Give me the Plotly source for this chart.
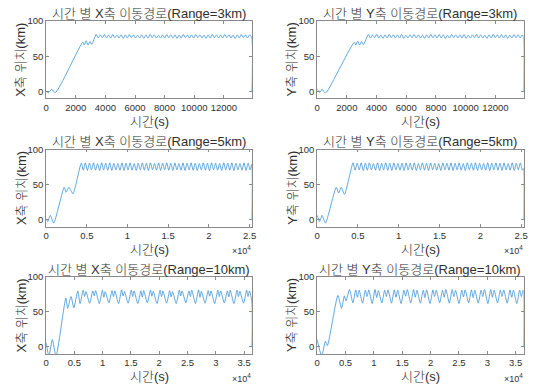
import plotly.graph_objects as go

# ---------------- data ----------------
t_x3 = [0, 150, 380, 620, 2480, 2570, 2700, 2830, 2960, 3080,
        3380, 3520, 3660, 3800, 3940, 4080, 4220, 4360, 4500, 4640,
        4780, 4920, 5060, 5200, 5340, 5480, 5620, 5760, 5900, 6040,
        6180, 6320, 6460, 6600, 6740, 6880, 7020, 7160, 7300, 7440,
        7580, 7720, 7860, 8000, 8140, 8280, 8420, 8560, 8700, 8840,
        8980, 9120, 9260, 9400, 9540, 9680, 9820, 9960, 10100, 10240,
        10380, 10520, 10660, 10800, 10940, 11080, 11220, 11360, 11500, 11640,
        11780, 11920, 12060, 12200, 12340, 12480, 12620, 12760, 12900, 13040,
        13180, 13320, 13460, 13600, 13740, 13880,
        13900]
v_x3 = [0, -2, 3, -2, 70, 66, 72, 66, 71, 67,
        81, 76, 80.5, 76.5, 81, 76, 80.5, 76, 81, 76.5,
        80, 76, 80.5, 75.5, 80.5, 76, 81, 76.5, 80.5, 76,
        80, 76, 80.5, 75.5, 80.5, 76, 81, 76.5, 80.5, 76,
        80, 76, 80.5, 76, 81, 76.5, 80.5, 76, 80.5, 75.5,
        80, 76, 81, 76.5, 80.5, 76, 80.5, 76, 81, 76.5,
        80.5, 76, 80, 75.5, 80.5, 76, 81, 76.5, 80.5, 76,
        80.5, 76, 81, 76.5, 80.5, 76, 80, 75.5, 80.5, 76,
        81, 76.5, 80.5, 76, 80.5, 77,
        0]

t_y3 = [0, 170, 330, 520, 640, 2510, 2600, 2730, 2860, 2990, 3110,
        3450, 3590, 3730, 3870, 4010, 4150, 4290, 4430, 4570, 4710,
        4850, 4990, 5130, 5270, 5410, 5550, 5690, 5830, 5970, 6110,
        6250, 6390, 6530, 6670, 6810, 6950, 7090, 7230, 7370, 7510,
        7650, 7790, 7930, 8070, 8210, 8350, 8490, 8630, 8770, 8910,
        9050, 9190, 9330, 9470, 9610, 9750, 9890, 10030, 10170, 10310,
        10450, 10590, 10730, 10870, 11010, 11150, 11290, 11430, 11570, 11710,
        11850, 11990, 12130, 12270, 12410, 12550, 12690, 12830, 12970, 13110,
        13250, 13390, 13530, 13670, 13810,
        13890, 13900]
v_y3 = [3, -1.5, 3, -2, -1, 70, 66, 71.5, 66, 71, 66.5,
        81, 76, 80.5, 76.5, 81, 76, 80, 75.5, 80.5, 76,
        81, 76.5, 80.5, 76, 80.5, 76, 81, 75.5, 80, 76,
        80.5, 76.5, 81, 76, 80.5, 76, 80, 75.5, 80.5, 76,
        81, 76.5, 80.5, 76, 81, 76, 80.5, 75.5, 80, 76,
        81, 76.5, 80.5, 76, 80.5, 76, 81, 75.5, 80, 76,
        80.5, 76.5, 81, 76, 80.5, 76, 80, 75.5, 80.5, 76,
        81, 76.5, 80.5, 76, 81, 76, 80.5, 75.5, 80, 76,
        81, 76.5, 80.5, 76, 80.5,
        77, 0]

t_x5 = [0, 200, 520, 930, 2220, 2450, 2800, 3300,
        4320, 4570, 4820, 5070, 5320, 5570, 5820, 6070, 6320, 6570,
        6820, 7070, 7320, 7570, 7820, 8070, 8320, 8570, 8820, 9070,
        9320, 9570, 9820, 10070, 10320, 10570, 10820, 11070, 11320, 11570,
        11820, 12070, 12320, 12570, 12820, 13070, 13320, 13570, 13820, 14070,
        14320, 14570, 14820, 15070, 15320, 15570, 15820, 16070, 16320, 16570,
        16820, 17070, 17320, 17570, 17820, 18070, 18320, 18570, 18820, 19070,
        19320, 19570, 19820, 20070, 20320, 20570, 20820, 21070, 21320, 21570,
        21820, 22070, 22320, 22570, 22820, 23070, 23320, 23570, 23820, 24070,
        24320, 24570, 24820, 25070,
        25280, 25300]
v_x5 = [1, -3, 6, -5, 46, 39, 46, 37,
        80.5, 70.5, 81, 70, 80.5, 71, 81, 70.5, 80, 70,
        81, 71, 80.5, 70.5, 81, 70, 80.5, 71, 80, 70.5,
        81, 70, 80.5, 71, 81, 70.5, 80, 70, 80.5, 71,
        81, 70.5, 80.5, 70, 81, 71, 80, 70.5, 81, 70,
        80.5, 71, 81, 70.5, 80.5, 70, 81, 71, 80, 70.5,
        81, 70, 80.5, 71, 81, 70.5, 80.5, 70, 80, 71,
        81, 70.5, 80.5, 70, 81, 71, 80.5, 70.5, 80, 70,
        81, 71, 80.5, 70.5, 81, 70, 80.5, 71, 80, 70.5,
        81, 70, 80.5, 71,
        79, 0]

t_y5 = [0, 300, 600, 1010, 2340, 2630, 2950, 3350,
        4400, 4650, 4900, 5150, 5400, 5650, 5900, 6150, 6400, 6650,
        6900, 7150, 7400, 7650, 7900, 8150, 8400, 8650, 8900, 9150,
        9400, 9650, 9900, 10150, 10400, 10650, 10900, 11150, 11400, 11650,
        11900, 12150, 12400, 12650, 12900, 13150, 13400, 13650, 13900, 14150,
        14400, 14650, 14900, 15150, 15400, 15650, 15900, 16150, 16400, 16650,
        16900, 17150, 17400, 17650, 17900, 18150, 18400, 18650, 18900, 19150,
        19400, 19650, 19900, 20150, 20400, 20650, 20900, 21150, 21400, 21650,
        21900, 22150, 22400, 22650, 22900, 23150, 23400, 23650, 23900, 24150,
        24400, 24650, 24900, 25150,
        25280, 25300]
v_y5 = [6, -3, 6, -5, 46, 38, 46, 36,
        81, 70.5, 80.5, 71, 81, 70, 80.5, 70.5, 81, 71,
        80, 70.5, 81, 70, 80.5, 71, 81, 70.5, 80.5, 70,
        81, 71, 80, 70.5, 80.5, 70, 81, 71, 80.5, 70.5,
        81, 70, 80, 71, 81, 70.5, 80.5, 70, 81, 71,
        80.5, 70.5, 80, 70, 81, 71, 80.5, 70.5, 81, 70,
        80.5, 71, 81, 70.5, 80, 70, 81, 71, 80.5, 70.5,
        81, 70, 80.5, 71, 80, 70.5, 81, 70, 80.5, 71,
        81, 70.5, 80.5, 70, 81, 71, 80, 70.5, 81, 70,
        80.5, 71, 81, 70.5,
        73, 0]

t_x10 = [0, 500, 1100, 1750, 3490, 3800, 4400, 4900, 5600,
         6000, 6550, 6800, 7050, 7700, 8250, 8500, 8750,
         9400, 9950, 10200, 10450, 11100, 11650, 11900, 12150,
         12800, 13350, 13600, 13850, 14500, 15050, 15300, 15550,
         16200, 16750, 17000, 17250, 17900, 18450, 18700, 18950,
         19600, 20150, 20400, 20650, 21300, 21850, 22100, 22350,
         23000, 23550, 23800, 24050, 24700, 25250, 25500, 25750,
         26400, 26950, 27200, 27450, 28100, 28650, 28900, 29150,
         29800, 30350, 30600, 30850, 31500, 32050, 32300, 32550,
         33200, 33750, 34000, 34250, 34900, 35450, 35700, 35950,
         36380, 36400]
v_x10 = [6, -13, 10.5, -13, 70, 55, 72, 56, 80,
         62, 81, 72, 79, 62.5, 80, 73, 80.5,
         62, 81, 71, 79, 63, 80.5, 72, 80,
         62, 81.5, 73, 79, 62.5, 81, 72, 80,
         62, 80, 71, 80.5, 63, 81, 72.5, 79.5,
         62, 81, 72, 80, 62.5, 80.5, 71.5, 79,
         62, 81, 73, 80, 63, 80, 72, 81,
         62, 81.5, 71, 79.5, 62.5, 80.5, 72.5, 80,
         62, 81, 72, 80, 63, 80, 71.5, 81,
         62, 81, 72, 79.5, 62.5, 81, 72, 80,
         64, 0]

t_y10 = [0, 800, 1450, 1800, 3660, 4300, 4800, 5100, 5700,
         6300, 6800, 7100, 7400, 8000, 8500, 8800, 9100,
         9700, 10200, 10500, 10800, 11400, 11900, 12200, 12500,
         13100, 13600, 13900, 14200, 14800, 15300, 15600, 15900,
         16500, 17000, 17300, 17600, 18200, 18700, 19000, 19300,
         19900, 20400, 20700, 21000, 21600, 22100, 22400, 22700,
         23300, 23800, 24100, 24400, 25000, 25500, 25800, 26100,
         26700, 27200, 27500, 27800, 28400, 28900, 29200, 29500,
         30100, 30600, 30900, 31200, 31800, 32300, 32600, 32900,
         33500, 34000, 34300, 34600, 35200, 35700, 36000, 36300,
         36380, 36400]
v_y10 = [10.5, -13, 8, 2, 73.5, 55, 73, 66, 82,
         63, 81.5, 71, 81, 62.5, 81, 72, 81.5,
         62, 82, 70.5, 80.5, 63, 81, 72, 81.5,
         62.5, 81.5, 71, 81, 62, 81, 72.5, 82,
         63, 82, 71, 81, 62.5, 81, 70.5, 81.5,
         62, 81.5, 72, 81, 63, 81, 71, 82,
         62.5, 82, 72, 81, 62, 81, 71.5, 81.5,
         63, 81.5, 70.5, 81, 62.5, 81, 72, 82,
         62, 82, 71, 81, 63, 81, 72, 81.5,
         62.5, 81.5, 71, 81, 62, 81, 72, 81,
         80, 0]

xmax_3, xmax_5, xmax_10 = 13900, 25300, 36400
xtick_vals_3 = [0, 2000, 4000, 6000, 8000, 10000, 12000]
xtick_text_3 = ["0", "2000", "4000", "6000", "8000", "10000", "12000"]
xtick_vals_5 = [0, 5000, 10000, 15000, 20000, 25000]
xtick_text_5 = ["0", "0.5", "1", "1.5", "2", "2.5"]
xtick_vals_10 = [0, 5000, 10000, 15000, 20000, 25000, 30000, 35000]
xtick_text_10 = ["0", "0.5", "1", "1.5", "2", "2.5", "3", "3.5"]
ytick_vals = [0, 50, 100]
ytick_text = ["0", "50", "100"]
y_range = [-10, 100]

titles = [["시간 별 X축 이동경로(Range=3km)", "시간 별 Y축 이동경로(Range=3km)"],
          ["시간 별 X축 이동경로(Range=5km)", "시간 별 Y축 이동경로(Range=5km)"],
          ["시간 별 X축 이동경로(Range=10km)", "시간 별 Y축 이동경로(Range=10km)"]]
ylabels = ["X축 위치(km)", "Y축 위치(km)"]
xlabel = "시간(s)"
exponent_label = "×10<sup>4</sup>"

for a, b in [(t_x3, v_x3), (t_y3, v_y3), (t_x5, v_x5), (t_y5, v_y5), (t_x10, v_x10), (t_y10, v_y10)]:
    assert len(a) == len(b), (len(a), len(b))

series = [[(t_x3, v_x3), (t_y3, v_y3)],
          [(t_x5, v_x5), (t_y5, v_y5)],
          [(t_x10, v_x10), (t_y10, v_y10)]]
xinfo = [(xmax_3, xtick_vals_3, xtick_text_3),
         (xmax_5, xtick_vals_5, xtick_text_5),
         (xmax_10, xtick_vals_10, xtick_text_10)]

# ---------------- layout (pixel geometry) ----------------
W, H = 537, 387
FONT = "Liberation Sans, Noto Sans CJK KR, Arial, sans-serif"
TXT = "#303030"
AXL = "#8a8a8a"
LINE = "#3a92d6"
col_px = [(43.7, 252.3), (318.3, 527.5)]
row_px = [(15.4, 93.8), (145.8, 224.0), (275.2, 353.4)]
title_y = [7.5, 138.0, 267.5]
xlabel_y = [117.0, 247.5, 376.7]
ylabel_x = [18.3, 292.5]
exp_y = [None, 248.0, 378.0]

fig = go.Figure()
layout = dict(width=W, height=H, autosize=False,
              margin=dict(l=0, r=0, t=0, b=0),
              paper_bgcolor="white", plot_bgcolor="white",
              showlegend=False, font=dict(family=FONT, color=TXT))
annotations = []

def px2x(p):
    return p / W

def px2y(p):
    return 1 - p / H

for r in range(3):
    for c in range(2):
        n = r * 2 + c + 1
        xa = "x" if n == 1 else f"x{n}"
        ya = "y" if n == 1 else f"y{n}"
        t, v = series[r][c]
        fig.add_trace(go.Scatter(x=t, y=v, mode="lines", xaxis=xa, yaxis=ya,
                                 line=dict(color=LINE, width=0.8, shape="spline", smoothing=0.6),
                                 hoverinfo="skip"))
        xmax, tv, tt = xinfo[r]
        common = dict(showline=True, mirror="ticks", linecolor=AXL, linewidth=0.8,
                      ticks="inside", ticklen=3, tickwidth=0.8, tickcolor=AXL,
                      showgrid=False, zeroline=False,
                      tickfont=dict(family=FONT, size=9.5, color=TXT))
        layout["xaxis" if n == 1 else f"xaxis{n}"] = dict(
            domain=[px2x(col_px[c][0]), px2x(col_px[c][1])],
            anchor=ya, range=[0, xmax], tickvals=tv, ticktext=tt, **common)
        layout["yaxis" if n == 1 else f"yaxis{n}"] = dict(
            domain=[px2y(row_px[r][1]), px2y(row_px[r][0])],
            anchor=xa, range=y_range, tickvals=ytick_vals, ticktext=ytick_text, **common)
        cx = (col_px[c][0] + col_px[c][1]) / 2
        annotations.append(dict(text=titles[r][c], x=px2x(cx), y=px2y(title_y[r]),
                                xref="paper", yref="paper", showarrow=False,
                                xanchor="center", yanchor="middle",
                                font=dict(family=FONT, size=13, color=TXT, weight=300)))
        annotations.append(dict(text=xlabel, x=px2x(cx), y=px2y(xlabel_y[r]),
                                xref="paper", yref="paper", showarrow=False,
                                xanchor="center", yanchor="middle",
                                font=dict(family=FONT, size=13, color=TXT, weight=300)))
        cy = (row_px[r][0] + row_px[r][1]) / 2
        annotations.append(dict(text=ylabels[c], x=px2x(ylabel_x[c]), y=px2y(cy),
                                xref="paper", yref="paper", showarrow=False,
                                textangle=-90, xanchor="center", yanchor="middle",
                                font=dict(family=FONT, size=13, color=TXT, weight=300)))
        if exp_y[r] is not None:
            annotations.append(dict(text=exponent_label, x=px2x(col_px[c][1] + 1),
                                    y=px2y(exp_y[r]), xref="paper", yref="paper",
                                    showarrow=False, xanchor="right", yanchor="middle",
                                    font=dict(family=FONT, size=9, color=TXT)))

layout["annotations"] = annotations
fig.update_layout(**layout)
fig.write_html("out.html")
